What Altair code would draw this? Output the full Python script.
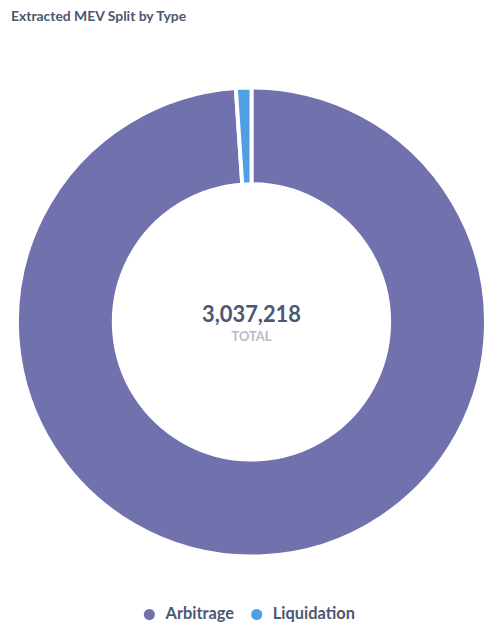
import altair as alt
import pandas as pd

types = ["Arbitrage", "Liquidation"]
counts = [3004900, 32318]
colors = ["#7172AD", "#509EE3"]
title_text = "Extracted MEV Split by Type"
total_label = ["TOTAL"]

df = pd.DataFrame({"type": types, "count": counts})
base = alt.Chart(df)

donut = base.mark_arc(
    innerRadius=138.5, outerRadius=236, stroke="white", strokeWidth=4
).encode(
    theta=alt.Theta("count:Q", stack=True),
    color=alt.Color(
        "type:N",
        scale=alt.Scale(domain=types, range=colors),
        legend=alt.Legend(
            title=None,
            orient="none",
            direction="horizontal",
            legendX=129,
            legendY=560,
            symbolType="circle",
            symbolSize=125,
            symbolStrokeWidth=0,
            symbolOpacity=1,
            labelFont="Lato",
            labelFontSize=16.5,
            labelFontWeight="bold",
            labelColor="#4C5773",
            labelOffset=8,
            columnPadding=14,
        ),
    ),
    order=alt.Order("type:N"),
)

total = base.transform_aggregate(total="sum(count)").mark_text(
    font="Lato", fontSize=22, fontWeight="bold", color="#4C5773", dy=-7
).encode(text=alt.Text("total:Q", format=","))

label = alt.Chart(pd.DataFrame({"t": total_label})).mark_text(
    font="Lato", fontSize=13, fontWeight="bold", color="#B8BBC3", dy=15
).encode(text="t:N")

chart = alt.layer(donut, total, label).properties(
    width=480,
    height=548,
    autosize="none",
    padding={"left": 5, "top": 40, "right": 0, "bottom": 29},
    title=alt.TitleParams(
        title_text,
        anchor="start",
        frame="group",
        font="Lato",
        fontSize=14,
        fontWeight="bold",
        color="#4C5773",
        offset=26,
        dx=-2,
    ),
).configure_view(stroke=None)

chart.save("out.html", embed_options={"renderer": "svg", "actions": False})
